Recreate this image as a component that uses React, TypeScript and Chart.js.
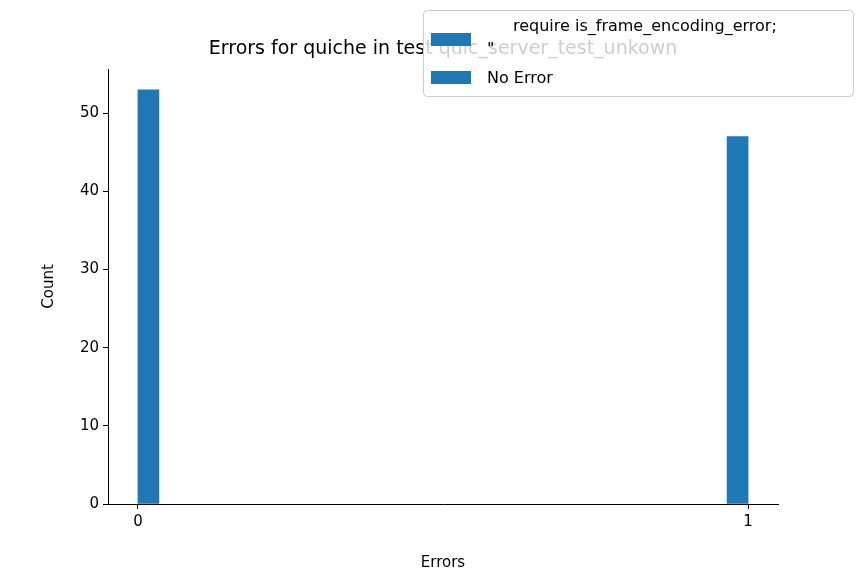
import { useEffect, useRef } from 'react';
import { Chart, registerables } from 'chart.js';

Chart.register(...registerables);

const binLeft = [0, 0.9655];
const binWidth = 0.0345;
const counts = [53, 47];
const xTicks = [0, 1];
const yTicks = [0, 10, 20, 30, 40, 50];
const legendLabels = ['require is_frame_encoding_error;\n"', 'No Error'];
const titleText = 'Errors for quiche in test quic_server_test_unkown';
const blue = '#1f77b4';
const font = 'DejaVu Sans, sans-serif';

const overlay = {
  id: 'overlay',
  afterDraw(chart: Chart) {
    const ctx = chart.ctx;
    const a = chart.chartArea;
    ctx.save();
    ctx.fillStyle = '#000';
    ctx.font = `19px ${font}`;
    ctx.textAlign = 'center';
    ctx.textBaseline = 'middle';
    ctx.fillText(titleText, (a.left + a.right) / 2, 49);
    // legend box
    ctx.beginPath();
    ctx.roundRect(423.5, 10.5, 430, 86, 4);
    ctx.fillStyle = 'rgba(255,255,255,0.8)';
    ctx.fill();
    ctx.strokeStyle = '#cccccc';
    ctx.lineWidth = 1;
    ctx.stroke();
    ctx.fillStyle = blue;
    ctx.fillRect(431, 33, 40, 13);
    ctx.fillRect(431, 71, 40, 13);
    ctx.fillStyle = '#000';
    ctx.font = `16px ${font}`;
    ctx.textAlign = 'left';
    const lines = legendLabels[0].split('\n');
    ctx.fillText(lines[0], 513, 27);
    ctx.fillText(lines[1], 487, 50);
    ctx.fillText(legendLabels[1], 487, 79);
    ctx.restore();
  },
};

const App = () => {
  const chartRef = useRef<HTMLCanvasElement>(null);

  useEffect(() => {
    if (!chartRef.current) return;
    const chart = new Chart(chartRef.current, {
      type: 'bar',
      data: {
        datasets: [
          {
            data: binLeft.map((x, i) => ({ x: x + binWidth / 2, y: counts[i] })),
            backgroundColor: blue,
            barThickness: 21,
          },
        ],
      },
      options: {
        animation: false,
        responsive: false,
        layout: { padding: { left: 36, right: 86, top: 69, bottom: 0 } },
        plugins: { legend: { display: false }, tooltip: { enabled: false } },
        scales: {
          x: {
            type: 'linear',
            offset: false,
            min: -0.049,
            max: 1.049,
            afterBuildTicks: (s: any) => {
              s.ticks = xTicks.map((v) => ({ value: v }));
            },
            afterFit: (s: any) => {
              s.height = 72;
            },
            grid: { drawOnChartArea: false, offset: false, color: '#000', tickLength: 5 },
            border: { color: '#000' },
            ticks: { color: '#000', font: { family: font, size: 15 }, padding: 4 },
            title: { display: true, text: 'Errors', color: '#000', font: { family: font, size: 15 }, padding: { top: 6 } },
          },
          y: {
            min: 0,
            max: 55.65,
            afterBuildTicks: (s: any) => {
              s.ticks = yTicks.map((v) => ({ value: v }));
            },
            afterFit: (s: any) => {
              s.width = 72;
            },
            grid: { drawOnChartArea: false, color: '#000', tickLength: 5 },
            border: { color: '#000' },
            ticks: { color: '#000', font: { family: font, size: 15 }, padding: 4 },
            title: { display: true, text: 'Count', color: '#000', font: { family: font, size: 15 }, padding: { bottom: 8 } },
          },
        },
      },
      plugins: [overlay],
    });
    return () => chart.destroy();
  }, []);

  return (
    <div style={{ position: 'fixed', left: 0, top: 0, width: 864, height: 576, background: '#fff' }}>
      <canvas ref={chartRef} width={864} height={576}></canvas>
    </div>
  );
};

export default App;
